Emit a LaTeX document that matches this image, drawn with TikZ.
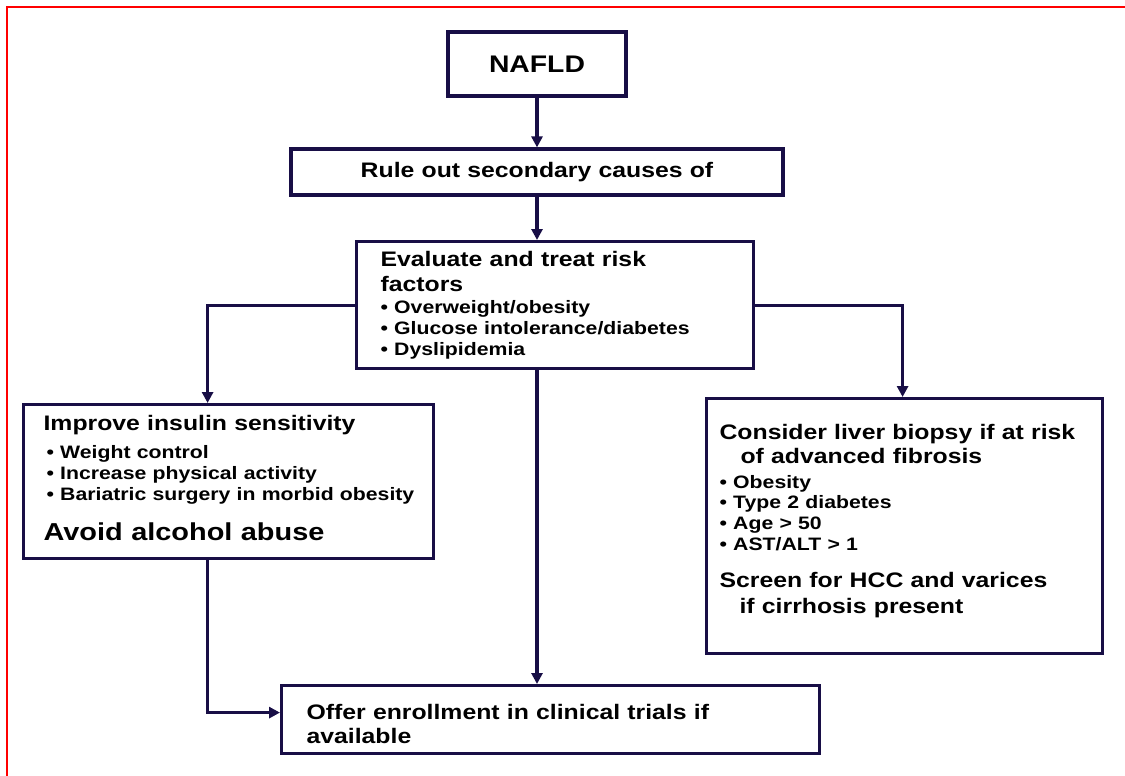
\documentclass[tikz,border=0pt]{standalone}
\usepackage{fontspec}
\setmainfont{Liberation Sans}[FakeStretch=1.18, WordSpace=1.05]
\usetikzlibrary{arrows.meta}
\definecolor{navy}{RGB}{24,14,70}
% one line of box text: size, distance to previous baseline, text
\newcommand{\txtline}[3]{{\fontsize{#1}{#2}\selectfont\spaceskip=0pt\xspaceskip=0pt\mbox{#3}\par}}
\tikzset{
    box/.style={draw=navy, line width=3.2pt, inner ysep=0pt, font=\bfseries, align=left, anchor=north west},
    arrow/.style={draw=navy, line width=3.2pt, -{Triangle[length=11pt,width=11pt]}}
}
\begin{document}
\begin{tikzpicture}[x=1pt, y=-1pt]
    \useasboundingbox (0,0) rectangle (1125,776);
    \draw[red, line width=2pt] (7,776) -- (7,7) -- (1125,7);

    \node[box, anchor=center, inner sep=0pt, minimum width=178pt, minimum height=64pt,
        font=\bfseries\fontsize{24}{28}\selectfont] (nafld) at (537,64) {NAFLD};
    \node[box, anchor=center, inner sep=0pt, minimum width=492pt, minimum height=46pt,
        font=\bfseries\fontsize{21}{25}\selectfont] (rule) at (537,172) {Rule out secondary causes of};

    \node[box, inner xsep=24pt, text width=349pt, text height=25pt, text depth=102pt] (evaluate) at (355,240) {%
        \txtline{21}{25}{Evaluate and treat risk}
        \txtline{21}{25}{factors}
        \txtline{18}{22}{• Overweight/obesity}
        \txtline{18}{21}{• Glucose intolerance/diabetes}
        \txtline{18}{21}{• Dyslipidemia}};

    \node[box, inner xsep=20pt, text width=370pt, text height=26pt, text depth=128pt] (improve) at (22,403) {%
        \txtline{21}{25}{Improve insulin sensitivity}
        \txtline{18}{28}{\hspace*{3pt}• Weight control}
        \txtline{18}{21}{\hspace*{3pt}• Increase physical activity}
        \txtline{18}{21}{\hspace*{3pt}• Bariatric surgery in morbid obesity}
        \txtline{24.5}{40}{Avoid alcohol abuse}};

    \node[box, inner xsep=13pt, text width=370pt, text height=41pt, text depth=214pt] (biopsy) at (705,397) {%
        \txtline{21}{24}{Consider liver biopsy if at risk}
        \txtline{21}{24}{\hspace*{21pt}of advanced fibrosis}
        \txtline{18}{25}{• Obesity}
        \txtline{18}{20}{• Type 2 diabetes}
        \txtline{18}{21}{• Age > 50}
        \txtline{18}{21}{• AST/ALT > 1}
        \txtline{21}{37}{Screen for HCC and varices}
        \txtline{21}{26}{\hspace*{20pt}if cirrhosis present}};

    \node[box, inner xsep=25pt, text width=488pt, text height=34pt, text depth=34pt] (offer) at (280,684) {%
        \txtline{21}{24}{Offer enrollment in clinical trials if}
        \txtline{21}{24}{available}};

    \draw[arrow] (nafld) -- (rule);
    \draw[arrow] (rule.south) -- (rule.south |- evaluate.north);
    \draw[arrow] (evaluate.west) -| ([xshift=-21pt]improve.north);
    \draw[arrow] (evaluate.east) -| ([xshift=-2pt]biopsy.north);
    \draw[arrow] (rule.south |- evaluate.south) -- (rule.south |- offer.north);
    \draw[arrow] ([xshift=-21pt]improve.south) |- ([yshift=7pt]offer.west);
\end{tikzpicture}
\end{document}
